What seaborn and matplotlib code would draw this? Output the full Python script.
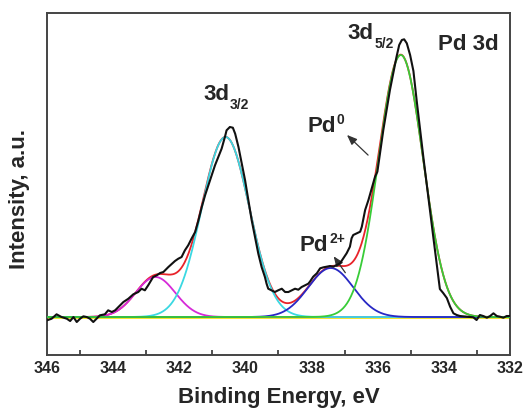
"""XPS Pd 3d: espectro medido com deconvolucao em componentes gaussianas."""
import matplotlib
matplotlib.use("Agg")
import matplotlib.pyplot as plt
import seaborn as sns
import numpy as np
import pandas as pd

sns.set_theme(style="white")
plt.rcParams["font.family"] = ["Liberation Sans", "DejaVu Sans"]
plt.rcParams["font.weight"] = "bold"

be_exp = [346.00, 345.86, 345.71, 345.56, 345.40, 345.30, 345.20, 345.10, 345.00, 344.90,
          344.80, 344.70, 344.60, 344.50, 344.40, 344.25, 344.15, 344.04, 343.94, 343.84,
          343.69, 343.54, 343.39, 343.24, 343.14, 343.04, 342.94, 342.79, 342.68, 342.58,
          342.48, 342.33, 342.23, 342.13, 342.03, 341.93, 341.83, 341.73, 341.63, 341.52,
          341.42, 341.32, 341.22, 341.12, 341.02, 340.92, 340.82, 340.72, 340.62, 340.57,
          340.47, 340.38, 340.31, 340.21, 340.11, 340.01, 339.91, 339.81, 339.71, 339.61,
          339.51, 339.41, 339.36, 339.31, 339.21, 339.11, 339.01, 338.90, 338.80, 338.70,
          338.60, 338.50, 338.40, 338.30, 338.20, 338.10, 338.05, 337.95, 337.84, 337.74,
          337.64, 337.54, 337.44, 337.34, 337.24, 337.14, 337.04, 336.94, 336.84, 336.79,
          336.74, 336.63, 336.53, 336.48, 336.38, 336.28, 336.18, 336.08, 336.01, 335.93,
          335.83, 335.73, 335.63, 335.53, 335.43, 335.35, 335.27, 335.20, 335.12, 335.02,
          334.92, 334.82, 334.72, 334.62, 334.52, 334.42, 334.32, 334.22, 334.12, 334.02,
          333.91, 333.81, 333.71, 333.61, 333.51, 333.31, 333.11, 333.01, 332.91, 332.81,
          332.70, 332.60, 332.50, 332.40, 332.30, 332.20, 332.10, 332.00]
int_exp = [-3.3, -1.7, 2.7, 0.0, -1.7, -4.0, 0.0, -5.0, -1.7, 0.7,
           0.0, -1.7, -5.0, -1.7, 1.7, 2.7, 6.7, 5.0, 6.7, 10.0,
           15.0, 18.3, 22.7, 25.0, 28.3, 26.7, 31.7, 40.0, 41.7, 44.0,
           45.0, 50.0, 53.0, 56.0, 58.3, 60.0, 66.7, 71.7, 78.3, 85.0,
           96.7, 110.0, 121.7, 131.7, 141.7, 151.7, 160.0, 168.3, 180.0, 186.7,
           190.0, 189.3, 183.3, 170.0, 153.3, 136.7, 116.7, 96.7, 80.0, 63.3,
           50.0, 40.0, 33.3, 28.3, 26.7, 25.0, 26.7, 28.3, 25.0, 25.0,
           26.7, 28.3, 27.3, 30.0, 31.7, 33.3, 35.3, 40.3, 43.7, 48.7,
           49.7, 50.3, 51.0, 50.3, 52.0, 53.7, 58.7, 63.7, 70.3, 78.7,
           82.0, 83.7, 85.3, 90.3, 107.0, 117.0, 128.7, 140.3, 145.3, 163.7,
           187.0, 207.0, 227.0, 243.7, 260.3, 272.0, 277.0, 277.7, 273.7, 262.0,
           246.0, 216.0, 188.0, 160.0, 133.7, 107.0, 80.3, 53.7, 28.0, 24.0,
           19.0, 10.3, 3.7, 2.0, 1.0, 0.3, -0.3, -3.0, 2.0, 1.0,
           -0.7, 1.0, 3.7, 1.0, 0.3, -0.7, 1.0, 1.0]

# componentes do ajuste: Pd 3d3/2 (Pd2+), Pd 3d3/2 (Pd0), Pd 3d5/2 (Pd2+), Pd 3d5/2 (Pd0)
peak_center = [342.72, 340.60, 337.42, 335.30]
peak_height = [40.0, 180.0, 49.0, 262.0]
peak_sigma = [0.60, 0.72, 0.68, 0.67]
peak_color = ["#d62ad8", "#3ad8e2", "#2828c4", "#38cc38"]


def label(ax, x, y, main, small, sub=True):
    t = ax.text(x, y, main, fontsize=16, fontweight="bold", ha="left", va="baseline")
    off = (0.5, -5) if sub else (0.4, 7)
    ax.annotate(small, xy=(1, 0), xycoords=t, xytext=off, textcoords="offset points",
                fontsize=10, fontweight="bold", ha="left", va="bottom")


def main():
    be = np.linspace(346, 332, 700)
    comps = pd.DataFrame({"be": be})
    for i, (c, h, s) in enumerate(zip(peak_center, peak_height, peak_sigma)):
        comps[f"p{i}"] = h * np.exp(-(be - c) ** 2 / (2 * s ** 2))
    comps["fit"] = comps[[f"p{i}" for i in range(4)]].sum(axis=1)
    exp = pd.DataFrame({"be": be_exp, "intensity": int_exp})

    fig = plt.figure(figsize=(5.25, 4.13), dpi=100)
    ax = fig.add_axes([0.0895, 0.1404, 0.8819, 0.8281])

    sns.lineplot(data=comps, x="be", y="fit", color="#e8232a", lw=1.3, ax=ax,
                 estimator=None, sort=False, zorder=2)
    ax.axhline(0, color="#f2e21a", lw=2.0, zorder=2.5)
    for i, col in enumerate(peak_color):
        sns.lineplot(data=comps, x="be", y=f"p{i}", color=col, lw=1.3, ax=ax,
                     estimator=None, sort=False, zorder=3)
    sns.lineplot(data=exp, x="be", y="intensity", color="#111111", lw=1.5, ax=ax,
                 estimator=None, sort=False, zorder=4)

    ax.set_xlim(346, 332)
    ax.set_ylim(-38, 304)
    ax.set_xticks(np.arange(346, 331, -2))
    ax.set_xticks(np.arange(345, 332, -2), minor=True)
    ax.set_yticks([])
    ax.tick_params(axis="x", which="major", direction="in", length=6, width=1.2,
                   color="#333333", pad=4, labelsize=11.5)
    ax.tick_params(axis="x", which="minor", direction="in", length=3.5, width=1.2,
                   color="#333333", bottom=True)
    for lab in ax.get_xticklabels():
        lab.set_fontweight("bold")
    for sp in ax.spines.values():
        sp.set_color("#444444")
        sp.set_linewidth(1.4)

    ax.set_xlabel("Binding Energy, eV", fontsize=16, fontweight="bold", labelpad=8)
    ax.set_ylabel("Intensity, a.u.", fontsize=16, fontweight="bold")
    ax.yaxis.set_label_coords(-0.036, 0.455)

    label(ax, 341.28, 217, "3d", "3/2")
    label(ax, 336.90, 278, "3d", "5/2")
    label(ax, 338.11, 185, "Pd", "0", sub=False)
    label(ax, 338.35, 66, "Pd", "2+", sub=False)
    ax.text(334.18, 267, "Pd 3d", fontsize=16, fontweight="bold", ha="left", va="baseline")

    arr = dict(arrowstyle="-|>,head_length=0.5,head_width=0.2", color="#333333", lw=0.9)
    ax.annotate("", xy=(336.99, 184), xytext=(336.23, 160), arrowprops=arr)
    ax.annotate("", xy=(337.38, 63), xytext=(336.93, 42), arrowprops=arr)

    fig.savefig("out.png", dpi=100)
    plt.close(fig)


if __name__ == "__main__":
    main()
